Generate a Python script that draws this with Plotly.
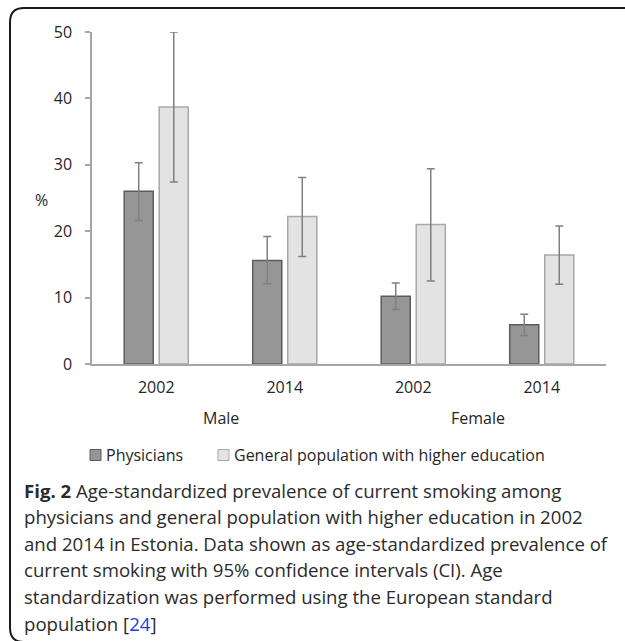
import plotly.graph_objects as go

# Data: age-standardized prevalence of current smoking (%) with 95% CI
years = ["2002", "2014", "2002", "2014"]
sexes = ["Male", "Female"]
series_names = ["Physicians", "General population with higher education"]
physicians = [26.0, 15.6, 10.2, 5.9]
physicians_lo = [21.6, 12.1, 8.2, 4.3]
physicians_hi = [30.3, 19.2, 12.2, 7.5]
general = [38.7, 22.2, 21.0, 16.4]
general_lo = [27.4, 16.2, 12.5, 12.0]
general_hi = [50.0, 28.1, 29.4, 20.8]
y_ticks = [0, 10, 20, 30, 40, 50]

W, H = 625, 641
ML, MR, MT, MB = 92, 19, 32, 277
PW, PH = W - ML - MR, H - MT - MB


def px_x(px):
    return (px - ML) / PW


def px_y(py):
    return (H - MB - py) / PH


xpos = list(range(len(years)))
chart_font = "Open Sans"
text_col = "#262626"
axis_grey = "#a6a6a6"
err_grey = "#808080"
fills = ["#969696", "#e3e3e3"]
edges = ["#5c5c5c", "#a8a8a8"]

fig = go.Figure()
for name, vals, lo, hi, fc, ec in [
    (series_names[0], physicians, physicians_lo, physicians_hi, fills[0], edges[0]),
    (series_names[1], general, general_lo, general_hi, fills[1], edges[1]),
]:
    fig.add_bar(
        x=xpos, y=vals, name=name, showlegend=False,
        marker=dict(color=fc, line=dict(color=ec, width=1.5)),
        error_y=dict(type="data", symmetric=False,
                     array=[h - v for h, v in zip(hi, vals)],
                     arrayminus=[v - l for v, l in zip(vals, lo)],
                     color=err_grey, thickness=1.5, width=4),
    )

# group labels under the year labels
for i, sex in enumerate(sexes):
    fig.add_annotation(
        x=2 * i + 0.5, y=px_y(418), xref="x", yref="paper",
        text=sex, showarrow=False, font=dict(family=chart_font, size=16, color=text_col),
        xanchor="center", yanchor="middle",
    )

# "%" axis label
fig.add_annotation(
    x=px_x(41.5), y=px_y(200), xref="paper", yref="paper", text="%",
    showarrow=False, font=dict(family=chart_font, size=16, color=text_col),
    xanchor="center", yanchor="middle",
)

# legend: small swatches followed by series names
legend_x = [90, 218]
legend_y = 455
for k, name in enumerate(series_names):
    lx = legend_x[k]
    fig.add_shape(type="rect", xref="paper", yref="paper",
                  x0=px_x(lx), x1=px_x(lx + 11), y0=px_y(legend_y + 5.5), y1=px_y(legend_y - 5.5),
                  fillcolor=fills[k], line=dict(color=edges[k], width=1))
    fig.add_annotation(
        x=px_x(lx + 14), y=px_y(legend_y), xref="paper", yref="paper",
        text=name, showarrow=False, font=dict(family=chart_font, size=16, color=text_col),
        xanchor="left", yanchor="middle",
    )

# figure caption
caption_lines = [
    "<b>Fig. 2</b> Age-standardized prevalence of current smoking among",
    "physicians and general population with higher education in 2002",
    "and 2014 in Estonia. Data shown as age-standardized prevalence of",
    "current smoking with 95% confidence intervals (CI). Age",
    "standardization was performed using the European standard",
    "population [<span style='color:#1a3fd6'>24</span>]",
]
for k, line in enumerate(caption_lines):
    fig.add_annotation(
        x=px_x(22), y=px_y(490 + 26.6 * k), xref="paper", yref="paper",
        text=line, showarrow=False, align="left",
        font=dict(family=chart_font, size=18.6, color="#2b2b2b"),
        xanchor="left", yanchor="middle",
    )

# rounded frame around the figure
x0, x1 = px_x(10), px_x(645)
y0, y1 = px_y(8), px_y(642)
rx, ry = 14 / PW, 14 / PH
path = (f"M {x1},{y0} L {x0 + rx},{y0} Q {x0},{y0} {x0},{y0 - ry} "
        f"L {x0},{y1 + ry} Q {x0},{y1} {x0 + rx},{y1} L {x1},{y1}")
fig.add_shape(type="path", path=path, xref="paper", yref="paper",
              line=dict(color="#1a1a1a", width=2))

fig.update_layout(
    width=W, height=H,
    margin=dict(l=ML, r=MR, t=MT, b=MB, autoexpand=False),
    paper_bgcolor="white", plot_bgcolor="white",
    barmode="group", bargap=0.455, bargroupgap=0.17,
    font=dict(family=chart_font, size=16, color=text_col),
    showlegend=False,
    xaxis=dict(
        range=[-0.5, 3.5], tickvals=xpos, ticktext=years,
        showline=True, linecolor=axis_grey, linewidth=1.5,
        ticks="", showgrid=False, zeroline=False, fixedrange=True,
        ticklabelstandoff=8,
        tickfont=dict(family=chart_font, size=16, color=text_col),
    ),
    yaxis=dict(
        range=[0, 50], tickvals=y_ticks,
        showline=True, linecolor=axis_grey, linewidth=1.5,
        ticks="outside", ticklen=5, tickcolor=axis_grey, tickwidth=1.5,
        showgrid=False, zeroline=False, fixedrange=True,
        ticklabelstandoff=10,
        tickfont=dict(family=chart_font, size=16, color=text_col),
    ),
)

fig.write_html("out.html")
